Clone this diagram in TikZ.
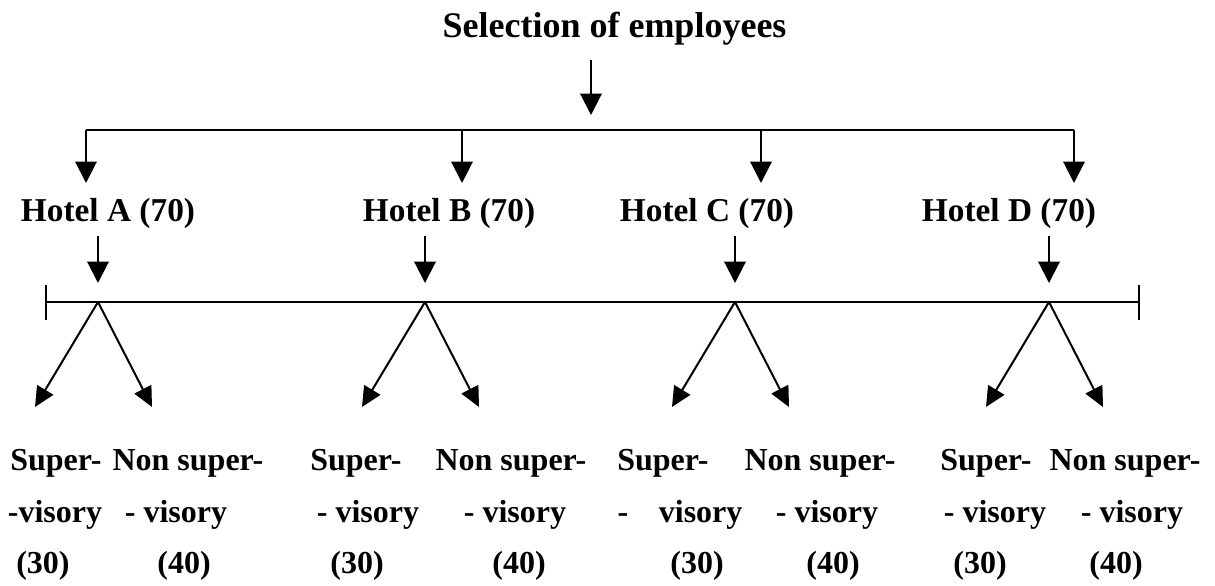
\documentclass[tikz,border=0pt]{standalone}
\usepackage{fontspec}
\setmainfont{Liberation Serif}
\usetikzlibrary{arrows.meta}
\begin{document}
\begin{tikzpicture}[x=0.75pt,y=-0.75pt,
  ttl/.style={anchor=base,inner sep=0pt,font=\bfseries\fontsize{27}{32}\selectfont},
  hotel/.style={anchor=base,inner sep=0pt,font=\bfseries\fontsize{25}{29}\selectfont},
  lbl/.style={anchor=base,inner sep=0pt,font=\bfseries\fontsize{24}{28}\selectfont},
  arr/.style={line width=1.6pt,-{Triangle[length=16pt,width=16pt]}},
  sarr/.style={line width=1.5pt,-{Triangle[length=15pt,width=14pt]}},
  bar/.style={line width=1.9pt}]
\useasboundingbox (0,0) rectangle (1215,586);
% title
\node[ttl] (title) at (614.5,37) {Selection of employees};
\coordinate (t0) at (591,60);
\coordinate (t1) at (591,115);
\draw[arr] (t0) -- (t1);
% upper bar
\coordinate (uL) at (86,130);
\coordinate (uR) at (1074,130);
\draw[bar] (uL) -- (uR);
% lower bar
\coordinate (lL) at (46,302);
\coordinate (lR) at (1139,302);
\coordinate (lLa) at (46,285);
\coordinate (lLb) at (46,320);
\coordinate (lRa) at (1139,285);
\coordinate (lRb) at (1139,320);
\draw[bar] (lL) -- (lR);
\draw[bar] (lLa) -- (lLb);
\draw[bar] (lRa) -- (lRb);
% hotels
\foreach \h/\xt/\xb/\xc in {A/86/98/108,B/462/425/449,C/761/735/707,D/1074/1049/1009}{
  \node[hotel] (h\h) at (\xc,221) {Hotel \h\ (70)};
  \coordinate (d\h) at (\xt,130);
  \coordinate (e\h) at (\xt,183);
  \draw[arr] (d\h) -- (e\h);
  \coordinate (s\h) at (\xb,236);
  \coordinate (q\h) at (\xb,283);
  \draw[arr] (s\h) -- (q\h);
  \coordinate (p\h) at (\xb,302);
  \coordinate (l\h) at ({\xb-63},407);
  \coordinate (r\h) at ({\xb+54},407);
  \draw[sarr] (p\h) -- (l\h);
  \draw[sarr] (p\h) -- (r\h);
}
% bottom labels
\foreach \h/\a/\b/\c/\d/\e/\f in {B/356/368/357/511/515/519,D/986/995/980/1125/1132/1116}{
  \node[lbl] (su\h) at (\a,470) {Super-};
  \node[lbl] (sv\h) at (\b,522) {- visory};
  \node[lbl] (sn\h) at (\c,573) {(30)};
  \node[lbl] (nu\h) at (\d,470) {Non super-};
  \node[lbl] (nv\h) at (\e,522) {- visory};
  \node[lbl] (nn\h) at (\f,573) {(40)};
}
\node[lbl] (suA) at (56,470) {Super-};
\node[lbl] (svA) at (55,522) {-visory};
\node[lbl] (snA) at (43,573) {(30)};
\node[lbl] (nuA) at (188,470) {Non super-};
\node[lbl] (nvA) at (176,522) {- visory};
\node[lbl] (nnA) at (184,573) {(40)};
\node[lbl] (suC) at (663,470) {Super-};
\node[lbl] (svC) at (680,522) {-\hspace{23pt}visory};
\node[lbl] (snC) at (697,573) {(30)};
\node[lbl] (nuC) at (820,470) {Non super-};
\node[lbl] (nvC) at (827,522) {- visory};
\node[lbl] (nnC) at (833,573) {(40)};
\end{tikzpicture}
\end{document}
